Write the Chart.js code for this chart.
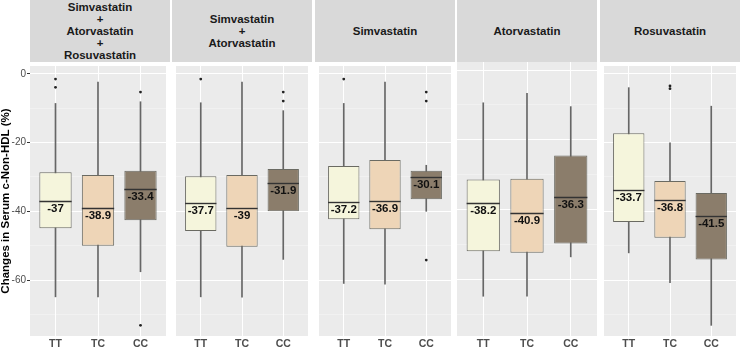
<!DOCTYPE html>
<html>
<head>
<meta charset="utf-8">
<script src="https://cdn.jsdelivr.net/npm/chart.js@4.4.1/dist/chart.umd.min.js"></script>
<style>
body { margin: 0; background: #fff; }
#wrap { position: relative; width: 740px; height: 348px; overflow: hidden; font-family: "Liberation Sans", Arial, sans-serif; }
.strip { position: absolute; top: 0; height: 62px; background: #D9D9D9; display: flex; flex-direction: column; justify-content: center; align-items: center; font-weight: bold; font-size: 11.5px; line-height: 12px; color: #1A1A1A; text-align: center; }
canvas { position: absolute; top: 62px; }
</style>
</head>
<body>
<div id="wrap"></div>
<script>
const groups = ['TT', 'TC', 'CC'];
const panelTitles = [
    ['Simvastatin', '+', 'Atorvastatin', '+', 'Rosuvastatin'],
    ['Simvastatin', '+', 'Atorvastatin'],
    ['Simvastatin'],
    ['Atorvastatin'],
    ['Rosuvastatin']
];

// one row per panel, one value per genotype (TT, TC, CC)
const whiskerLow = [
    [-64.9, -64.9, -57.6],
    [-64.9, -65.0, -54.0],
    [-61.0, -61.2, -40.0],
    [-64.9, -64.9, -53.6],
    [-52.1, -60.8, -73.2]
];
const q1 = [
    [-44.9, -50.0, -42.6],
    [-45.7, -50.3, -40.0],
    [-42.3, -45.2, -36.5],
    [-52.0, -52.4, -49.8],
    [-43.1, -47.7, -54.0]
];
const medians = [
    [-37, -38.9, -33.4],
    [-37.7, -39, -31.9],
    [-37.2, -36.9, -30.1],
    [-38.2, -40.9, -36.3],
    [-33.7, -36.8, -41.5]
];
const q3 = [
    [-28.6, -29.4, -28.2],
    [-29.8, -29.4, -27.7],
    [-26.8, -25.1, -28.2],
    [-31.4, -31.2, -24.5],
    [-17.3, -31.2, -34.7]
];
const whiskerHigh = [
    [-8.6, -2.4, -8.1],
    [-8.4, -2.4, -10.7],
    [-8.6, -2.4, -26.6],
    [-9.4, -6.7, -10.5],
    [-4.0, -20.1, -9.4]
];
const outliers = [
    [[-1.5, -3.9], [], [-5.3, -73.2]],
    [[-1.5], [], [-5.3, -7.9]],
    [[-1.5], [], [-5.3, -7.9, -54.2]],
    [[], [], []],
    [[], [-3.5, -4.3], []]
];

const fills = ['#F5F5DC', '#EED5B7', '#8B7D6B'];
const panelLeft = [30, 172, 315, 457, 600];
const panelWidth = 140;
const yMin = -76.3, yMax = 2.3;

const wrap = document.getElementById('wrap');

const panelBg = {
    id: 'panelBg',
    beforeDraw(chart) {
        const { ctx, chartArea: a } = chart;
        ctx.save();
        ctx.fillStyle = '#EBEBEB';
        ctx.fillRect(a.left, a.top, a.right - a.left, a.bottom - a.top);
        ctx.restore();
    }
};

// median line + its value, placed with the chart's own scales
const medianMarks = {
    id: 'medianMarks',
    afterDatasetsDraw(chart) {
        const { ctx } = chart;
        const p = chart.config.options.plugins.medianMarks.panel;
        const meta = chart.getDatasetMeta(1);
        const y = chart.scales.y;
        ctx.save();
        meta.data.forEach((bar, j) => {
            const py = Math.round(y.getPixelForValue(medians[p][j])) + 0.5;
            const half = bar.width / 2;
            ctx.strokeStyle = '#333333';
            ctx.lineWidth = 1.4;
            ctx.beginPath();
            ctx.moveTo(bar.x - half, py);
            ctx.lineTo(bar.x + half, py);
            ctx.stroke();
            ctx.fillStyle = '#111111';
            ctx.font = 'bold 11.5px "Liberation Sans", Arial, sans-serif';
            ctx.textAlign = 'center';
            ctx.textBaseline = 'middle';
            ctx.fillText(String(medians[p][j]), bar.x, py + 7);
        });
        ctx.restore();
    }
};

panelTitles.forEach((lines, p) => {
    const strip = document.createElement('div');
    strip.className = 'strip';
    strip.style.left = panelLeft[p] + 'px';
    strip.style.width = panelWidth + 'px';
    lines.forEach(t => {
        const d = document.createElement('div');
        d.textContent = t;
        strip.appendChild(d);
    });
    wrap.appendChild(strip);

    const first = p === 0;
    const axisW = first ? 30 : 0;
    const canvas = document.createElement('canvas');
    canvas.width = axisW + panelWidth;
    canvas.height = 286;
    canvas.style.left = (panelLeft[p] - axisW) + 'px';
    canvas.style.width = canvas.width + 'px';
    canvas.style.height = '286px';
    wrap.appendChild(canvas);

    const pts = [];
    outliers[p].forEach((list, j) => list.forEach(v => pts.push({ x: j + 1, y: v })));

    new Chart(canvas, {
        type: 'bar',
        data: {
            datasets: [
                {
                    label: 'whiskers',
                    data: groups.map((g, j) => ({ x: j + 1, y: [whiskerLow[p][j], whiskerHigh[p][j]] })),
                    backgroundColor: '#666666',
                    borderWidth: 0,
                    barThickness: 1,
                    grouped: false,
                    order: 3
                },
                {
                    label: 'boxes',
                    data: groups.map((g, j) => ({ x: j + 1, y: [q1[p][j], q3[p][j]] })),
                    backgroundColor: fills,
                    borderColor: '#6A6A62',
                    borderWidth: 1,
                    borderSkipped: false,
                    barPercentage: 0.76,
                    categoryPercentage: 1,
                    grouped: false,
                    order: 2
                },
                {
                    type: 'scatter',
                    label: 'outliers',
                    data: pts,
                    pointRadius: 1.4,
                    backgroundColor: '#222222',
                    borderWidth: 0,
                    order: 1
                }
            ]
        },
        options: {
            responsive: false,
            animation: false,
            layout: { padding: 0 },
            plugins: {
                legend: { display: false },
                tooltip: { enabled: false },
                medianMarks: { panel: p }
            },
            scales: {
                x: {
                    type: 'linear',
                    min: 0.4,
                    max: 3.6,
                    offset: false,
                    afterBuildTicks: s => { s.ticks = [1, 2, 3].map(v => ({ value: v })); },
                    afterFit: s => { s.height = 12; s.paddingLeft = 0; s.paddingRight = 0; },
                    border: { display: false },
                    grid: {
                        offset: false,
                        color: '#FFFFFF',
                        lineWidth: 1,
                        tickLength: 3,
                        tickColor: 'rgba(0,0,0,0)'
                    },
                    ticks: {
                        callback: v => groups[v - 1],
                        maxRotation: 0,
                        autoSkip: false,
                        padding: 0,
                        color: '#4D4D4D',
                        font: { family: '"Liberation Sans", Arial, sans-serif', size: 10.5, weight: 'bold', lineHeight: 1 }
                    }
                },
                y: {
                    min: yMin,
                    max: yMax,
                    afterFit: s => { s.width = axisW; s.paddingTop = 0; s.paddingBottom = 0; },
                    border: { display: false },
                    grid: {
                        color: c => (c.tick && c.tick.value % 20 === 0) ? '#FFFFFF' : 'rgba(255,255,255,0.55)',
                        lineWidth: c => (c.tick && c.tick.value % 20 === 0) ? 1 : 0.6,
                        drawTicks: first,
                        tickLength: 3,
                        tickColor: c => (c.tick && c.tick.value % 20 === 0) ? '#333333' : 'rgba(0,0,0,0)'
                    },
                    ticks: {
                        display: first,
                        stepSize: 10,
                        includeBounds: false,
                        padding: 1,
                        color: '#4D4D4D',
                        font: { family: '"Liberation Sans", Arial, sans-serif', size: 10 },
                        callback: v => v % 20 === 0 ? String(v) : ''
                    },
                    title: {
                        display: first,
                        text: 'Changes in Serum c-Non-HDL (%)',
                        color: '#000000',
                        padding: 0,
                        font: { family: '"Liberation Sans", Arial, sans-serif', size: 11.5, weight: 'bold', lineHeight: 1 }
                    }
                }
            }
        },
        plugins: [panelBg, medianMarks]
    });
});
</script>
</body>
</html>
